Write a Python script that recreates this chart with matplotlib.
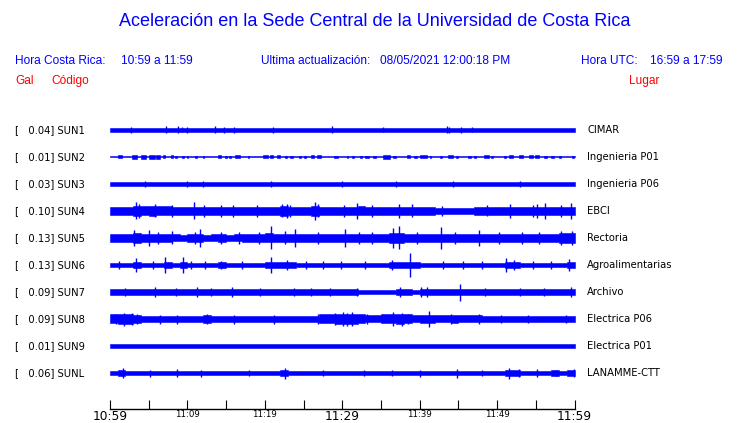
import numpy as np
import matplotlib
matplotlib.use("Agg")
import matplotlib.pyplot as plt
from matplotlib.transforms import blended_transform_factory

# station codes, peak acceleration (Gal) and site names
codes = ["SUN1", "SUN2", "SUN3", "SUN4", "SUN5", "SUN6", "SUN7", "SUN8", "SUN9", "SUNL"]
peaks = [0.04, 0.01, 0.03, 0.10, 0.13, 0.13, 0.09, 0.09, 0.01, 0.06]
sites = ["CIMAR", "Ingenieria P01", "Ingenieria P06", "EBCI", "Rectoria",
         "Agroalimentarias", "Archivo", "Electrica P06", "Electrica P01", "LANAMME-CTT"]

# trace envelope (half height, px) per minute
env_sun1 = [1.7, 1.7, 1.8, 1.7, 1.7, 1.7, 1.7, 1.9, 1.8, 1.9, 1.7, 1.7, 1.7, 1.9, 1.9,
            1.7, 1.7, 1.7, 1.7, 1.7, 1.7, 1.9, 1.7, 1.7, 1.7, 1.7, 1.7, 1.7, 1.9, 1.7,
            1.7, 1.7, 1.7, 1.7, 1.8, 1.7, 1.7, 1.7, 1.7, 1.7, 1.7, 1.7, 1.7, 1.9, 1.9,
            1.7, 1.8, 1.7, 1.7, 1.6, 1.7, 1.7, 1.7, 1.7, 1.7, 1.8, 1.7, 1.6, 1.7, 1.8]
env_sun2 = [0.5, 0.5, 0.5, 0.5, 0.5, 0.5, 0.5, 0.5, 0.5, 0.5, 0.5, 0.5, 0.5, 0.5, 0.5,
            0.5, 0.5, 0.5, 0.5, 0.5, 0.5, 0.5, 0.5, 0.5, 0.5, 0.5, 0.5, 0.5, 0.5, 0.5,
            0.5, 0.5, 0.5, 0.5, 0.5, 0.5, 0.5, 0.5, 0.5, 0.5, 0.5, 0.5, 0.5, 0.5, 0.5,
            0.5, 0.5, 0.5, 0.5, 0.5, 0.5, 0.5, 0.5, 0.5, 0.5, 0.5, 0.5, 0.5, 0.5, 0.5]
env_sun3 = [2.0, 2.3, 1.9, 2.2, 2.0, 2.3, 1.9, 2.2, 2.0, 2.3, 2.0, 2.1, 2.2, 1.9, 2.2,
            2.0, 2.3, 1.9, 2.1, 2.2, 2.3, 2.0, 2.2, 1.9, 2.2, 2.0, 2.3, 2.1, 1.9, 2.2,
            2.0, 2.3, 2.0, 2.2, 1.9, 2.3, 2.1, 2.2, 2.0, 2.3, 2.0, 2.2, 1.9, 2.3, 2.2,
            2.0, 2.2, 1.9, 2.3, 2.0, 2.2, 2.1, 2.3, 2.0, 2.2, 1.9, 2.3, 2.0, 2.2, 2.1]
env_sun4 = [4.0, 4.3, 4.3, 5.3, 4.5, 4.7, 4.5, 4.5, 4.0, 3.7, 4.3, 4.0, 4.0, 4.2, 4.2,
            4.3, 4.3, 4.3, 4.3, 4.3, 4.2, 4.2, 4.8, 4.3, 3.8, 3.8, 5.0, 3.8, 3.8, 4.0,
            4.0, 4.2, 4.5, 3.9, 3.9, 3.9, 4.3, 4.3, 4.2, 4.2, 4.0, 4.0, 3.0, 3.0, 3.0,
            3.0, 3.0, 3.6, 3.6, 3.6, 3.7, 3.7, 3.6, 3.6, 3.6, 4.0, 4.0, 3.7, 3.7, 4.3]
env_sun5 = [4.0, 4.2, 4.3, 4.6, 4.1, 4.3, 4.0, 4.1, 3.5, 3.4, 3.6, 3.8, 3.4, 3.5, 3.6,
            3.4, 3.5, 3.6, 4.3, 4.2, 4.5, 4.3, 4.2, 4.3, 3.7, 3.6, 3.8, 3.7, 3.6, 3.7,
            3.9, 3.7, 3.6, 3.7, 3.8, 3.7, 5.0, 5.0, 3.8, 3.7, 3.6, 3.7, 3.9, 3.7, 3.6,
            3.7, 3.7, 3.9, 3.7, 3.6, 3.7, 3.7, 3.6, 3.7, 3.8, 3.7, 3.6, 3.8, 5.3, 5.3]
env_sun6 = [2.0, 2.2, 2.0, 2.8, 2.1, 2.0, 2.0, 2.8, 2.1, 2.8, 2.0, 2.0, 2.1, 2.0, 2.7,
            2.0, 2.0, 2.1, 2.0, 2.0, 2.8, 2.6, 2.8, 2.6, 2.0, 2.0, 2.1, 2.0, 2.0, 2.1,
            2.0, 2.0, 2.0, 2.1, 2.0, 2.0, 2.8, 2.6, 2.8, 2.6, 2.0, 2.1, 2.0, 2.0, 2.0,
            2.0, 2.1, 2.0, 2.0, 2.0, 2.1, 2.8, 2.7, 2.0, 2.0, 2.1, 2.0, 2.0, 2.2, 2.8]
env_sun7 = [2.8, 2.9, 3.0, 2.7, 2.8, 3.0, 3.2, 2.7, 2.7, 2.8, 2.7, 3.0, 2.7, 2.8, 2.7,
            2.9, 2.8, 2.7, 2.8, 2.9, 2.7, 2.7, 2.6, 2.8, 2.7, 2.7, 2.8, 2.7, 2.7, 2.7,
            2.8, 2.9, 2.2, 2.0, 2.0, 2.0, 2.2, 2.8, 2.7, 1.8, 3.3, 3.3, 2.7, 2.7, 2.8,
            3.0, 2.7, 2.6, 2.7, 2.6, 2.7, 2.6, 2.6, 2.7, 2.6, 2.7, 2.6, 2.6, 2.7, 3.1]
env_sun8 = [4.5, 4.6, 4.6, 4.4, 3.0, 3.0, 3.2, 3.0, 3.1, 3.0, 3.0, 3.1, 4.0, 3.2, 3.0,
            3.4, 3.2, 3.0, 3.0, 3.2, 3.0, 3.2, 3.0, 3.1, 3.0, 3.2, 3.4, 4.5, 4.5, 4.7,
            5.0, 5.0, 4.5, 3.5, 3.5, 4.5, 4.5, 4.6, 4.5, 3.5, 3.6, 3.8, 3.5, 3.5, 3.6,
            3.5, 3.5, 3.5, 3.0, 3.0, 3.1, 3.0, 3.0, 3.1, 3.0, 3.0, 3.1, 3.0, 3.0, 3.2]
env_sun9 = [1.6, 1.6, 1.7, 1.7, 1.7, 1.7, 1.7, 1.7, 1.7, 1.7, 1.7, 1.7, 1.7, 1.7, 1.7,
            1.7, 1.7, 1.7, 1.7, 1.7, 1.7, 1.7, 1.7, 1.7, 1.7, 1.7, 1.7, 1.7, 1.7, 1.7,
            1.7, 1.7, 1.7, 1.7, 1.7, 1.7, 1.7, 1.7, 1.7, 1.7, 1.7, 1.7, 1.7, 1.7, 1.7,
            1.7, 1.7, 1.7, 1.7, 1.7, 1.7, 1.7, 1.7, 1.7, 1.7, 1.7, 1.7, 1.7, 1.7, 1.7]
env_sunl = [2.4, 3.0, 2.2, 2.0, 2.2, 2.4, 2.0, 2.1, 2.4, 2.0, 2.1, 2.2, 2.0, 2.1, 2.0,
            2.1, 2.0, 2.2, 2.0, 2.1, 2.0, 2.1, 3.2, 2.2, 2.0, 2.1, 2.0, 2.2, 2.0, 2.1,
            2.0, 2.1, 2.2, 2.0, 2.1, 2.0, 2.2, 2.0, 2.1, 2.0, 2.4, 2.0, 2.1, 2.0, 2.4,
            2.1, 2.0, 2.2, 2.0, 2.1, 2.0, 3.0, 2.6, 2.1, 2.0, 2.4, 2.0, 2.6, 2.1, 2.6]

# short bursts on the quiet SUN2 trace: (start min, end min, half height px)
bursts_sun2 = [(1.0, 1.5, 1.5), (2.9, 3.5, 1.6), (4.0, 4.6, 1.6), (5.0, 5.8, 1.7), (6.0, 6.5, 1.6),
               (6.8, 7.1, 1.5), (7.9, 8.2, 1.5), (8.4, 8.7, 1.4), (9.3, 9.5, 1.4), (9.9, 10.1, 1.4),
               (11.0, 11.2, 1.3), (12.0, 12.2, 1.3), (14.0, 14.3, 1.5), (14.8, 15.1, 1.4),
               (15.4, 15.6, 1.4), (16.2, 16.8, 1.5), (17.8, 18.0, 1.3), (19.8, 20.4, 1.5),
               (20.7, 21.1, 1.5), (21.6, 22.0, 1.5), (22.6, 22.9, 1.4), (23.2, 23.6, 1.4),
               (24.4, 24.7, 1.4), (25.0, 25.3, 1.4), (25.9, 26.4, 1.5), (26.8, 27.3, 1.5),
               (28.9, 29.5, 1.4), (30.6, 30.8, 1.3), (31.3, 31.5, 1.3), (32.3, 32.6, 1.4),
               (33.0, 33.4, 1.4), (34.0, 34.4, 1.4), (35.3, 36.2, 1.6), (36.6, 36.9, 1.4),
               (38.4, 38.8, 1.5), (39.3, 39.6, 1.4), (40.1, 40.9, 1.5), (41.3, 41.5, 1.3),
               (42.6, 42.9, 1.4), (43.6, 44.3, 1.5), (44.7, 44.9, 1.3), (46.3, 46.6, 1.4),
               (47.0, 47.3, 1.4), (48.3, 49.0, 1.5), (49.2, 49.5, 1.4), (50.9, 51.2, 1.4),
               (51.6, 52.0, 1.5), (52.8, 53.4, 1.5), (54.1, 54.6, 1.5), (54.9, 55.4, 1.5),
               (56.1, 56.4, 1.4), (57.0, 57.3, 1.4), (58.0, 58.2, 1.3), (59.7, 59.9, 1.3)]

# isolated peaks: (minute after 10:59, half height px)
spk_sun1 = [(2.7, 3.0), (7.2, 3.5), (8.75, 3.5), (9.3, 2.5), (9.9, 2.7), (13.5, 3.5),
            (14.7, 3.0), (16.0, 3.0), (21.0, 2.7), (28.7, 3.5), (35.3, 2.5),
            (43.5, 3.5), (43.8, 3.0), (45.3, 3.0), (46.7, 2.5)]
spk_sun2 = []
spk_sun3 = [(4.5, 2.7), (10.0, 2.6), (12.0, 2.8), (20.8, 3.0), (30.0, 2.8), (37.0, 2.8),
            (44.3, 3.0), (53.0, 2.8)]
spk_sun4 = [(3.3, 8.5), (3.7, 7.0), (5.8, 6.5), (8.0, 6.0), (10.8, 8.5), (12.1, 6.0),
            (14.4, 6.0), (15.9, 6.0), (19.0, 6.0), (22.2, 6.5), (22.8, 7.0), (23.3, 6.0),
            (26.5, 9.0), (26.9, 6.5), (30.2, 6.0), (31.9, 8.0), (33.8, 6.0), (37.3, 7.0),
            (39.0, 6.5), (42.9, 5.0), (48.7, 5.5), (51.7, 7.0), (54.7, 6.0), (55.2, 7.0),
            (56.2, 8.0), (58.2, 6.0), (59.5, 8.0)]
spk_sun5 = [(3.1, 8.0), (5.0, 8.0), (6.25, 6.0), (8.0, 6.5), (11.0, 6.0), (11.6, 9.0),
            (14.4, 6.0), (16.6, 6.0), (19.2, 6.0), (20.8, 11.5), (22.6, 6.5), (23.9, 9.0),
            (26.9, 6.0), (30.3, 9.0), (32.1, 6.0), (33.8, 6.0), (36.6, 10.0), (37.3, 11.5),
            (39.7, 6.0), (42.7, 11.0), (44.6, 6.0), (47.6, 8.0), (50.2, 6.0), (53.2, 6.0),
            (55.4, 6.0), (58.2, 7.0), (59.7, 7.0)]
spk_sun6 = [(1.2, 3.5), (3.4, 6.7), (5.5, 3.5), (7.1, 8.3), (9.4, 7.5), (10.5, 3.5),
            (12.3, 3.5), (14.4, 4.0), (17.0, 3.5), (20.8, 8.0), (22.8, 5.0), (25.3, 3.5),
            (27.5, 3.5), (29.9, 3.5), (33.0, 3.5), (36.4, 5.0), (38.7, 12.0), (43.0, 3.5),
            (45.6, 3.5), (48.0, 3.5), (51.1, 7.0), (52.2, 5.0), (54.6, 3.5), (56.9, 3.5),
            (59.3, 6.0)]
spk_sun7 = [(2.0, 4.0), (5.8, 5.5), (8.5, 4.0), (11.2, 5.0), (13.0, 4.0), (15.7, 4.5),
            (19.4, 4.0), (23.8, 4.0), (26.0, 4.0), (28.4, 3.8), (31.9, 4.0), (37.5, 5.0),
            (40.2, 4.5), (41.0, 5.0), (45.2, 8.5), (48.5, 3.8), (53.0, 3.8), (56.0, 3.8),
            (59.5, 4.5)]
spk_sun8 = [(0.8, 5.5), (1.8, 6.5), (2.8, 6.0), (3.5, 5.5), (6.4, 4.5), (8.6, 4.5),
            (12.5, 5.0), (16.0, 4.5), (21.2, 4.5), (26.9, 5.5), (29.0, 6.0), (30.1, 7.0),
            (30.6, 6.5), (31.2, 7.0), (33.2, 5.0), (36.5, 7.0), (37.7, 6.5), (38.5, 5.5),
            (41.2, 8.0), (44.1, 5.0), (47.6, 5.5), (50.5, 4.2), (54.0, 4.2), (58.9, 4.2)]
spk_sun9 = []
spk_sunl = [(1.7, 5.0), (5.2, 3.5), (8.6, 4.0), (11.7, 3.5), (17.9, 3.2), (22.6, 5.5),
            (27.5, 3.2), (32.8, 3.2), (36.4, 3.2), (40.1, 3.5), (44.8, 4.5), (48.0, 3.2),
            (51.6, 5.5), (52.8, 4.0), (55.2, 4.0), (57.6, 3.2), (59.9, 4.0)]

envelopes = [env_sun1, env_sun2, env_sun3, env_sun4, env_sun5,
             env_sun6, env_sun7, env_sun8, env_sun9, env_sunl]
spikes = [spk_sun1, spk_sun2, spk_sun3, spk_sun4, spk_sun5,
          spk_sun6, spk_sun7, spk_sun8, spk_sun9, spk_sunl]
bursts = [[], bursts_sun2, [], [], [], [], [], [], [], []]

tick_minutes = list(range(0, 61, 5))
tick_labels = {0: "10:59", 10: "11:09", 20: "11:19", 30: "11:29",
               40: "11:39", 50: "11:49", 60: "11:59"}
big_labels = [0, 30, 60]

W, H = 740, 423
ROW = 27.0  # px between traces
BLUE = "#0000ff"
RED = "#ff0000"
HEAD = "Liberation Sans"

fig = plt.figure(figsize=(W / 100, H / 100), dpi=100)
fig.patch.set_facecolor("white")

# header
fig.text(375 / W, 1 - 22 / H, "Aceleración en la Sede Central de la Universidad de Costa Rica",
         ha="center", va="center", color=BLUE, fontsize=13, family=HEAD)
y_h = 1 - 61 / H
fig.text(15 / W, y_h, "Hora Costa Rica:", color=BLUE, fontsize=8.6, family=HEAD, va="center")
fig.text(121 / W, y_h, "10:59 a 11:59", color=BLUE, fontsize=8.6, family=HEAD, va="center")
fig.text(261 / W, y_h, "Ultima actualización:", color=BLUE, fontsize=8.6, family=HEAD, va="center")
fig.text(380 / W, y_h, "08/05/2021 12:00:18 PM", color=BLUE, fontsize=8.6, family=HEAD, va="center")
fig.text(581 / W, y_h, "Hora UTC:", color=BLUE, fontsize=8.6, family=HEAD, va="center")
fig.text(650 / W, y_h, "16:59 a 17:59", color=BLUE, fontsize=8.6, family=HEAD, va="center")
y_r = 1 - 81 / H
fig.text(15 / W, y_r, "Gal", color=RED, fontsize=8.6, family=HEAD, va="center")
fig.text(51 / W, y_r, "Código", color=RED, fontsize=8.6, family=HEAD, va="center")
fig.text(629 / W, y_r, "Lugar", color=RED, fontsize=8.6, family=HEAD, va="center")

# trace area: rows at y px 130 + 27*i, time axis at y px 409
top_px, base_px = 116.5, 409
ax = fig.add_axes([110 / W, (H - base_px) / H, (574.5 - 110) / W, (base_px - top_px) / H])
ax.set_xlim(0, 60)
ax.set_ylim((base_px - 130) / ROW, (top_px - 130) / ROW)
for s in ["top", "left", "right"]:
    ax.spines[s].set_visible(False)
ax.spines["bottom"].set_linewidth(1.0)
ax.set_yticks([])

edges = np.arange(0, 61, 1)
for i, (env, spk, bst) in enumerate(zip(envelopes, spikes, bursts)):
    a = np.append(env, env[-1]) / ROW
    ax.fill_between(edges, i - a, i + a, step="post", color=BLUE, lw=0.4)
    for t0, t1, h in bst:
        ax.fill_between([t0, t1], i - h / ROW, i + h / ROW, color=BLUE, lw=0.4)
    if spk:
        t, h = zip(*spk)
        h = np.array(h) / ROW
        ax.vlines(t, i - h, i + h, color=BLUE, lw=1.0)

ax.set_xticks(tick_minutes)
ax.set_xticklabels([tick_labels.get(m, "") for m in tick_minutes])
ax.tick_params(axis="x", direction="in", length=6.3, width=0.8, pad=1, colors="black")
for m, lab in zip(tick_minutes, ax.get_xticklabels()):
    lab.set_fontsize(8.8 if m in big_labels else 6.2)

tr = blended_transform_factory(fig.transFigure, ax.transData)
for i, (c, p, s) in enumerate(zip(codes, peaks, sites)):
    ax.text(15 / W, i, f"[   {p:.2f}] {c}", transform=tr, fontsize=7.2,
            va="center", ha="left", clip_on=False)
    ax.text(587 / W, i, s, transform=tr, fontsize=7.2, va="center", ha="left", clip_on=False)

fig.savefig("out.png", dpi=100, facecolor="white")
